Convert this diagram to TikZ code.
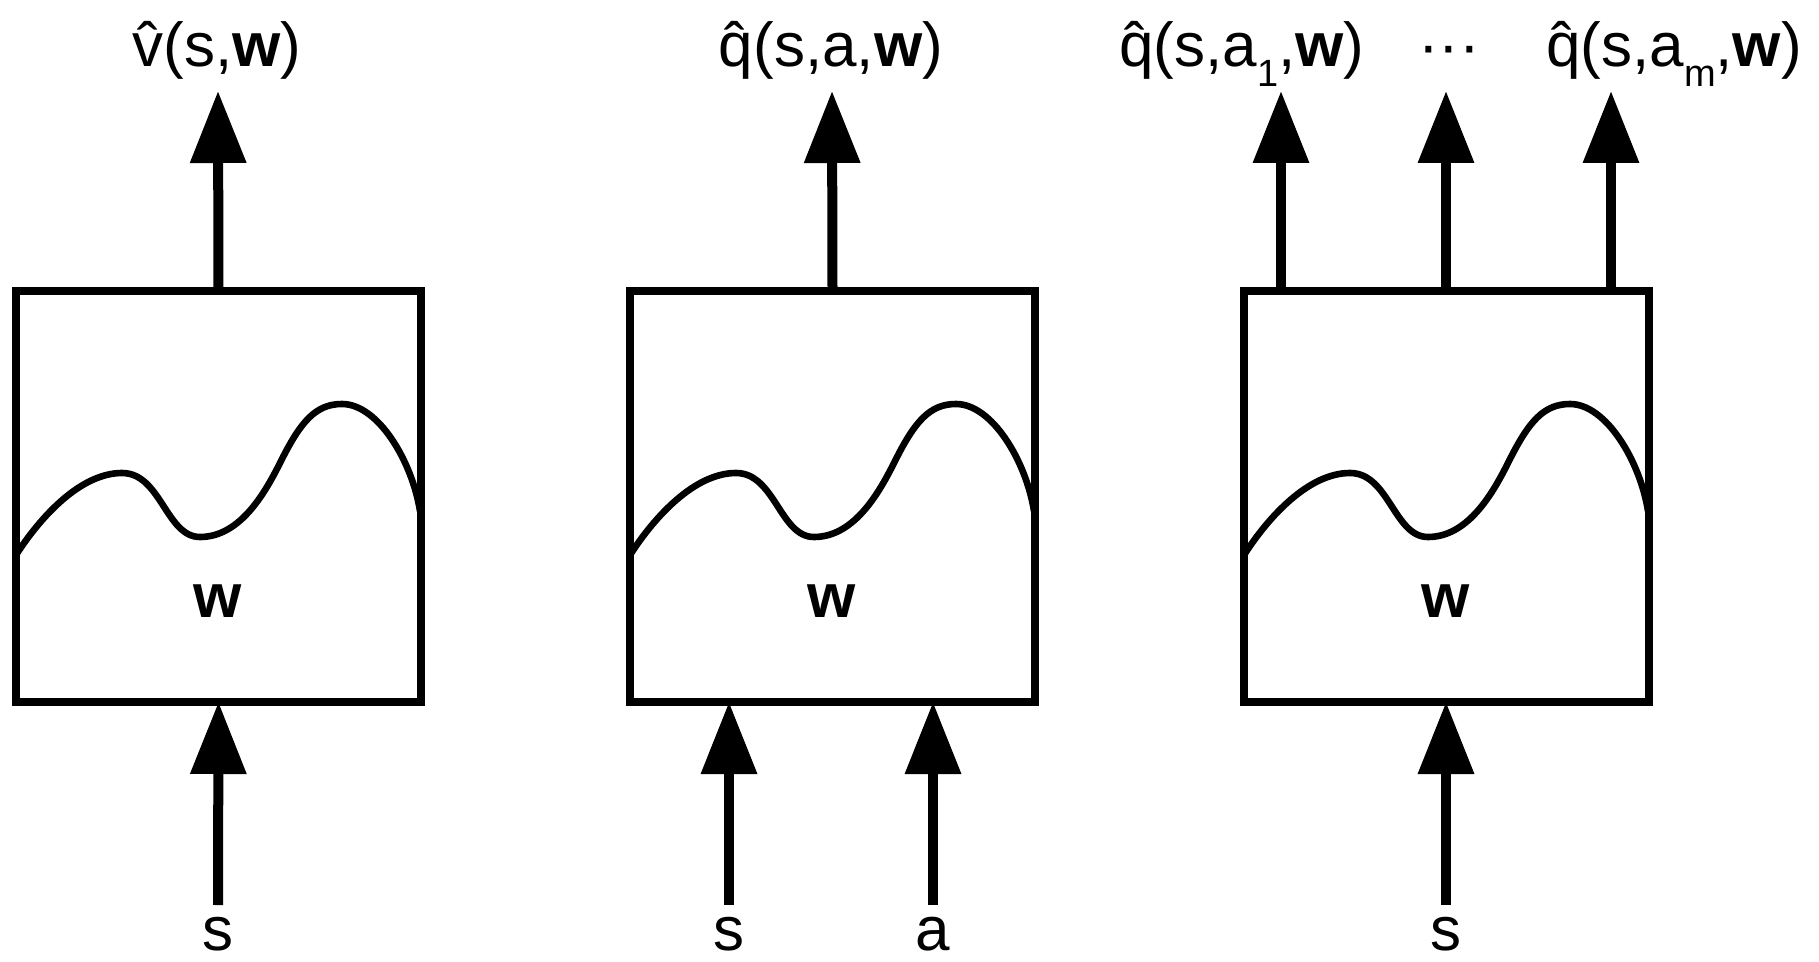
\documentclass[tikz,border=0pt]{standalone}
\usepackage{fontspec}
\setmainfont{Liberation Sans}
\usetikzlibrary{arrows.meta}
\newcommand\subsc[1]{\raisebox{-10pt}{\fontsize{19}{22}\selectfont #1}}
\begin{document}
\begin{tikzpicture}[x=0.5pt,y=-0.5pt,
  boxnode/.style={draw, line width=4pt, line join=miter, minimum width=202.5pt, minimum height=205.5pt, inner sep=0pt, outer sep=0pt, anchor=north west},
  arr/.style={line width=5pt, -{Triangle[width=27pt,length=36pt]}},
  lbl/.style={font=\fontsize{31}{36}\selectfont, inner sep=0pt, anchor=base},
  wlbl/.style={font=\fontsize{31}{36}\selectfont\bfseries, inner sep=0pt, anchor=base},
  wavecurve/.pic={\draw[line width=3.3pt]
    (0,264) .. controls (25,225) and (65,182) .. (106,182)
    .. controls (145,182) and (150,246) .. (184,246)
    .. controls (225,246) and (250,200) .. (265,170)
    .. controls (285,130) and (300,113) .. (326,113)
    .. controls (362,113) and (396,170) .. (404,220);}
]
\useasboundingbox (0,0) rectangle (1819,962);

% boxes
\node[boxnode] (b1) at (16,291) {};
\node[boxnode] (b2) at (630,291) {};
\node[boxnode] (b3) at (1244,291) {};

% waves
\pic at (b1.north west) {wavecurve};
\pic at (b2.north west) {wavecurve};
\pic at (b3.north west) {wavecurve};

% weight labels
\node[wlbl] (w1) at (218,617) {w};
\node[wlbl] (w2) at (832,617) {w};
\node[wlbl] (w3) at (1446,617) {w};

% output labels
\node[lbl] (o1) at (217,67) {\^{v}(s,\textbf{w})};
\node[lbl] (o2) at (831,67) {\^{q}(s,a,\textbf{w})};
\node[lbl] (o3) at (1242,67) {\^{q}(s,a\subsc{1},\textbf{w})};
\node[lbl] (o4) at (1449,67) {\textperiodcentered\textperiodcentered\textperiodcentered};
\node[lbl] (o5) at (1674,67) {\^{q}(s,a\subsc{m},\textbf{w})};

% output arrow tips
\coordinate (t1) at (218,91);
\coordinate (t2) at (832,91);
\coordinate (t3a) at (1281,91);
\coordinate (t3b) at (1446,91);
\coordinate (t3c) at (1611,91);
\draw[arr] (b1.north) -- (t1);
\draw[arr] (b2.north) -- (t2);
\draw[arr] (b3.north -| t3a) -- (t3a);
\draw[arr] (b3.north -| t3b) -- (t3b);
\draw[arr] (b3.north -| t3c) -- (t3c);

% inputs
\coordinate (s1) at (218,905);
\coordinate (s2) at (729,905);
\coordinate (a2) at (933,905);
\coordinate (s3) at (1446,905);
\draw[arr] (s1) -- (b1.south);
\draw[arr] (s2) -- (b2.south -| s2);
\draw[arr] (a2) -- (b2.south -| a2);
\draw[arr] (s3) -- (b3.south -| s3);

\node[lbl] (i1) at (218,950) {s};
\node[lbl] (i2) at (729,950) {s};
\node[lbl] (i3) at (933,950) {a};
\node[lbl] (i4) at (1446,950) {s};
\end{tikzpicture}
\end{document}
